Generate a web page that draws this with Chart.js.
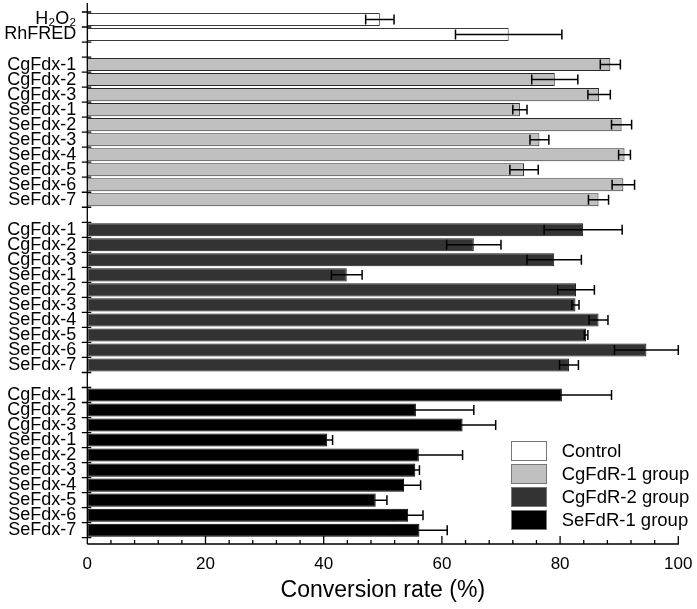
<!DOCTYPE html>
<html>
<head>
<meta charset="utf-8">
<script src="https://cdn.jsdelivr.net/npm/chart.js@4/dist/chart.umd.min.js"></script>
<style>
html,body{margin:0;padding:0;background:#fff;}
#wrap{position:relative;width:697px;height:609px;}
#legend{position:absolute;left:510.7px;top:440px;font-family:"Liberation Sans",Arial,sans-serif;font-size:18.5px;color:#000;}
.row{display:flex;align-items:center;height:22.9px;}
.box{box-sizing:border-box;width:36px;height:20px;border:1.5px solid #777;margin-right:15px;}
</style>
</head>
<body>
<div id="wrap"><canvas id="c" width="697" height="609"></canvas><div id="legend"></div></div>
<script>
// ---- data ----
const controlLabels = ['H₂O₂', 'RhFRED'];
const fdxLabels = ['CgFdx-1','CgFdx-2','CgFdx-3','SeFdx-1','SeFdx-2','SeFdx-3','SeFdx-4','SeFdx-5','SeFdx-6','SeFdx-7'];
const seriesNames = ['Control', 'CgFdR-1 group', 'CgFdR-2 group', 'SeFdR-1 group'];
const seriesColors = ['#ffffff', '#c0c0c0', '#333333', '#000000'];
const seriesBorders = ['#3a3a3a', '#2a2a2a', '#1a1a1a', '#000000'];

const controlValues = [49.5, 71.3];
const controlErrors = [2.4, 9.0];
const cgFdR1Values = [88.5, 79.1, 86.6, 73.2, 90.4, 76.5, 90.9, 73.9, 90.7, 86.5];
const cgFdR1Errors = [1.7, 3.9, 1.9, 1.2, 1.7, 1.6, 1.0, 2.4, 1.9, 1.7];
const cgFdR2Values = [83.9, 65.4, 79.0, 43.9, 82.7, 82.6, 86.5, 84.4, 94.6, 81.5];
const cgFdR2Errors = [6.6, 4.6, 4.6, 2.6, 3.1, 0.6, 1.6, 0.3, 5.4, 1.6];
const seFdR1Values = [80.3, 55.6, 63.5, 40.6, 56.1, 55.5, 53.6, 48.8, 54.3, 56.2];
const seFdR1Errors = [8.4, 9.8, 5.6, 0.9, 7.4, 0.7, 2.8, 1.9, 2.5, 4.7];
const xTickValues = [0, 20, 40, 60, 80, 100];
const xMinorStep = 4;
const xTitle = 'Conversion rate (%)';

// ---- build category list with blank separators ----
const labels = [...controlLabels, '', ...fdxLabels, '', ...fdxLabels, '', ...fdxLabels];
const starts = [0, controlLabels.length + 1, controlLabels.length + 2 + fdxLabels.length, controlLabels.length + 3 + 2 * fdxLabels.length];
function pad(values, start) {
  const arr = new Array(labels.length).fill(null);
  values.forEach((v, i) => { arr[start + i] = v; });
  return arr;
}
const valueSets = [controlValues, cgFdR1Values, cgFdR2Values, seFdR1Values];
const errorSets = [controlErrors, cgFdR1Errors, cgFdR2Errors, seFdR1Errors];

const datasets = seriesNames.map((name, k) => ({
  label: name,
  data: pad(valueSets[k], starts[k]),
  errors: pad(errorSets[k], starts[k]),
  backgroundColor: seriesColors[k],
  borderColor: seriesBorders[k],
  borderWidth: 1,
  borderSkipped: false,
  grouped: false,
  barPercentage: 0.87,
  categoryPercentage: 1.0
}));

// ---- plugin: error bars + axis lines/ticks drawn from the scales ----
const axesPlugin = {
  id: 'axesAndErrors',
  afterDatasetsDraw(chart) {
    const ctx = chart.ctx;
    const xs = chart.scales.x, ys = chart.scales.y, ca = chart.chartArea;
    ctx.save();
    chart.data.datasets.forEach((ds, di) => {
      const meta = chart.getDatasetMeta(di);
      meta.data.forEach((bar, i) => {
        const v = ds.data[i], e = ds.errors[i];
        if (v == null || e == null) return;
        const y = bar.y;
        const x1 = xs.getPixelForValue(v - e), x2 = xs.getPixelForValue(v + e);
        const h = bar.height * 0.38;
        ctx.strokeStyle = '#000';
        ctx.lineWidth = 1.5;
        ctx.beginPath();
        ctx.moveTo(x1, y); ctx.lineTo(x2, y);
        ctx.moveTo(x1, y - h); ctx.lineTo(x1, y + h);
        ctx.moveTo(x2, y - h); ctx.lineTo(x2, y + h);
        ctx.stroke();
      });
    });
    const slot = ys.getPixelForValue(1) - ys.getPixelForValue(0);
    const axisY = ca.bottom + slot * 0.42;
    const topY = ca.top - slot * 0.6;
    const x0 = xs.getPixelForValue(0);
    ctx.strokeStyle = '#000';
    ctx.lineWidth = 1.3;
    ctx.beginPath();
    ctx.moveTo(x0, topY); ctx.lineTo(x0, axisY);
    ctx.moveTo(x0, axisY); ctx.lineTo(xs.getPixelForValue(100) + 0.6, axisY);
    ctx.stroke();
    ctx.beginPath();
    for (let v = xMinorStep; v <= 100; v += xMinorStep) {
      const px = xs.getPixelForValue(v);
      const len = xTickValues.includes(v) ? 8 : 4;
      ctx.moveTo(px, axisY); ctx.lineTo(px, axisY - len);
    }
    for (let i = 0; i <= labels.length; i++) {
      const py = ys.getPixelForValue(0) + slot * (i - 0.5);
      ctx.moveTo(x0 - 5.5, py); ctx.lineTo(x0 + 4, py);
    }
    ctx.stroke();
    ctx.restore();
  }
};

Chart.defaults.font.family = '"Liberation Sans", Arial, sans-serif';
Chart.defaults.color = '#000';

new Chart(document.getElementById('c'), {
  type: 'bar',
  data: { labels: labels, datasets: datasets },
  options: {
    indexAxis: 'y',
    responsive: false,
    animation: false,
    layout: { padding: { top: 12, right: 18.7, left: 0, bottom: 0 } },
    plugins: { legend: { display: false }, tooltip: { enabled: false } },
    scales: {
      x: {
        type: 'linear',
        min: 0, max: 100,
        grid: { display: false, drawTicks: false },
        border: { display: false },
        ticks: { stepSize: 20, padding: 16, font: { size: 17 }, color: '#000' },
        title: { display: true, text: xTitle, font: { size: 23 }, color: '#000', padding: { top: 0, bottom: 5 } },
        afterFit(scale) { scale.height = 71.3; scale.paddingLeft = 0; scale.paddingRight = 0; }
      },
      y: {
        type: 'category',
        offset: true,
        grid: { display: false, drawTicks: false },
        border: { display: false },
        ticks: { autoSkip: false, padding: 11, font: { size: 18 }, color: '#000' },
        afterFit(scale) { scale.width = 87.3; scale.paddingTop = 0; scale.paddingBottom = 0; }
      }
    }
  },
  plugins: [axesPlugin]
});

const lg = document.getElementById('legend');
seriesNames.forEach((name, k) => {
  const row = document.createElement('div');
  row.className = 'row';
  const box = document.createElement('div');
  box.className = 'box';
  box.style.background = seriesColors[k];
  const txt = document.createElement('span');
  txt.textContent = name;
  row.appendChild(box); row.appendChild(txt);
  lg.appendChild(row);
});
</script>
</body>
</html>
